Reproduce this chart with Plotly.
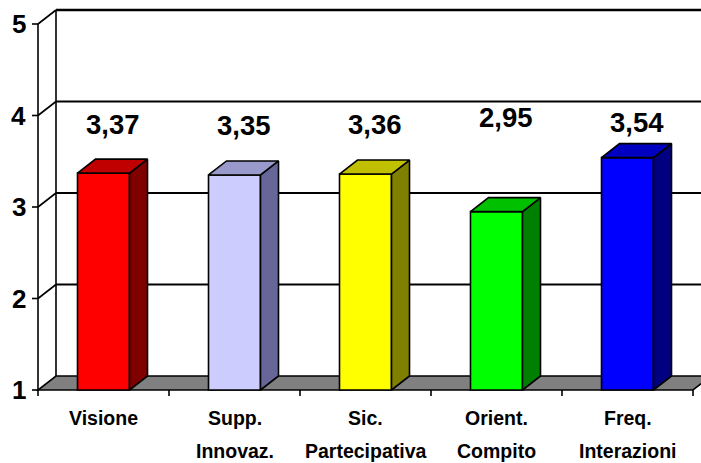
import plotly.graph_objects as go

# ---------------- data ----------------
categories = [["Visione"], ["Supp.", "Innovaz."], ["Sic.", "Partecipativa"],
              ["Orient.", "Compito"], ["Freq.", "Interazioni"]]
values = [3.37, 3.35, 3.36, 2.95, 3.54]
value_labels = ["3,37", "3,35", "3,36", "2,95", "3,54"]
y_ticks = [1, 2, 3, 4, 5]
y_tick_labels = ["1", "2", "3", "4", "5"]
label_y = [3.907, 3.891, 3.902, 3.973, 3.929]  # heights of the value labels

front_colors = ["#FF0000", "#CCCCFF", "#FFFF00", "#00FF00", "#0000FF"]
side_colors = ["#800000", "#666699", "#808000", "#008000", "#000080"]
top_colors = ["#C00000", "#9999CC", "#C0C000", "#00C000", "#0000C0"]

# ---------------- geometry (pixel based scale) ----------------
W, H = 701, 463
X0_PX, CAT_PX = 38, 131.0
Y1_PX, UNIT_PX = 390, 91.5
px = 1.0 / CAT_PX
py = 1.0 / UNIT_PX
xr = [-X0_PX * px, (W - X0_PX) * px]
yr = [1 - (H - Y1_PX) * py, 1 + Y1_PX * py]
DX = 18 * px
DY = 14 * py
BW = 52 * px
n = len(values)
BASE = y_ticks[0]
TOP = y_ticks[-1]

LINE = dict(color="black", width=1.6)
shapes = []

# floor
shapes.append(dict(type="path", xref="x", yref="y", layer="below",
                   path=f"M0,{BASE} L{n},{BASE} L{n+DX},{BASE+DY} L{DX},{BASE+DY} Z",
                   fillcolor="#808080", line=LINE))
# back wall grid lines and side wall diagonals
for t in y_ticks[1:]:
    w = 2.4 if t == TOP else 1.8
    shapes.append(dict(type="line", xref="x", yref="y", layer="below",
                       x0=DX, y0=t + DY, x1=xr[1] + 1, y1=t + DY,
                       line=dict(color="black", width=w)))
    shapes.append(dict(type="line", xref="x", yref="y", layer="below",
                       x0=0, y0=t, x1=DX, y1=t + DY, line=LINE))
# side wall verticals
shapes.append(dict(type="line", xref="x", yref="y", layer="below",
                   x0=0, y0=BASE, x1=0, y1=TOP, line=LINE))
shapes.append(dict(type="line", xref="x", yref="y", layer="below",
                   x0=DX, y0=BASE + DY, x1=DX, y1=TOP + DY, line=LINE))
# y ticks
for t in y_ticks:
    shapes.append(dict(type="line", xref="x", yref="y",
                       x0=-6 * px, y0=t, x1=0, y1=t, line=LINE))
# x ticks
for k in range(n + 1):
    shapes.append(dict(type="line", xref="x", yref="y",
                       x0=k, y0=BASE, x1=k, y1=BASE - 6 * py, line=LINE))

fig = go.Figure()

# front faces of bars
fig.add_trace(go.Bar(
    x=[i + 0.5 for i in range(n)], y=[v - BASE for v in values], base=BASE,
    width=BW, marker=dict(color=front_colors, line=LINE),
    hoverinfo="skip", showlegend=False))

# side and top faces
for i, v in enumerate(values):
    c = i + 0.5
    xl, xrr = c - BW / 2, c + BW / 2
    fig.add_trace(go.Scatter(
        x=[xrr, xrr + DX, xrr + DX, xrr, xrr],
        y=[BASE, BASE + DY, v + DY, v, BASE],
        mode="lines", fill="toself", fillcolor=side_colors[i],
        line=LINE, hoverinfo="skip", showlegend=False))
    fig.add_trace(go.Scatter(
        x=[xl, xl + DX, xrr + DX, xrr, xl],
        y=[v, v + DY, v + DY, v, v],
        mode="lines", fill="toself", fillcolor=top_colors[i],
        line=LINE, hoverinfo="skip", showlegend=False))

annotations = []
NUM_FONT = dict(family="Liberation Sans, Arial, sans-serif", size=27.5, color="black", weight="bold")
for i, (lab, ly) in enumerate(zip(value_labels, label_y)):
    annotations.append(dict(x=i + 0.5 + DX / 2, y=ly, xref="x", yref="y", text=lab,
                            showarrow=False, xanchor="center", yanchor="middle",
                            font=NUM_FONT))
for t, lab in zip(y_ticks, y_tick_labels):
    annotations.append(dict(x=-10 * px, y=t, xref="x", yref="y", text=lab,
                            showarrow=False, xanchor="right", yanchor="middle",
                            font=dict(family="Liberation Sans, Arial, sans-serif", size=26,
                                      color="black", weight="bold")))
CAT_FONT = dict(family="Liberation Sans, Arial, sans-serif",
                size=19.5, color="black", weight="bold")
line_y = [BASE - 28 * py, BASE - 60.5 * py]
for i, lines in enumerate(categories):
    for j, txt in enumerate(lines):
        annotations.append(dict(x=i + 0.5, y=line_y[j], xref="x", yref="y", text=txt,
                                showarrow=False, xanchor="center", yanchor="middle",
                                font=CAT_FONT))

fig.update_layout(
    width=W, height=H, autosize=False,
    margin=dict(l=0, r=0, t=0, b=0, pad=0),
    paper_bgcolor="white", plot_bgcolor="white",
    xaxis=dict(range=xr, visible=False, fixedrange=True),
    yaxis=dict(range=yr, visible=False, fixedrange=True),
    shapes=shapes, annotations=annotations,
)

fig.write_html("out.html")
